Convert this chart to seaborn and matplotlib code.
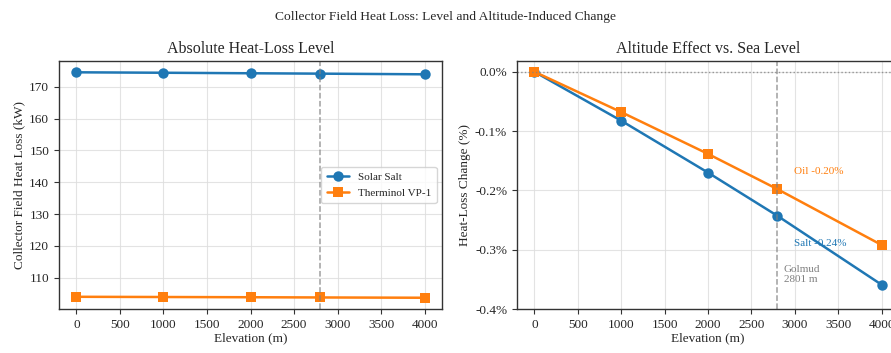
import matplotlib
matplotlib.use("Agg")
import matplotlib.pyplot as plt
import seaborn as sns
import pandas as pd
from matplotlib.ticker import PercentFormatter

elevation = [0, 1000, 2000, 2801, 4000]
fluids = ["Solar Salt", "Therminol VP-1"]
salt_kw = [174.50, 174.36, 174.20, 174.08, 173.87]
oil_kw = [104.06, 103.99, 103.92, 103.85, 103.76]
salt_pct = [0.0, -0.0825, -0.170, -0.243, -0.359]
oil_pct = [0.0, -0.068, -0.1385, -0.198, -0.292]
golmud = 2801

sns.set_style("ticks")
plt.rcParams["font.family"] = ["Liberation Serif", "DejaVu Serif"]
plt.rcParams["axes.unicode_minus"] = False

colors = {"Solar Salt": "#1f77b4", "Therminol VP-1": "#ff7f0e"}
markers = {"Solar Salt": "o", "Therminol VP-1": "s"}

df = pd.DataFrame({
    "Elevation": elevation * 2,
    "kW": salt_kw + oil_kw,
    "pct": salt_pct + oil_pct,
    "Fluid": [fluids[0]] * len(elevation) + [fluids[1]] * len(elevation),
})

fig = plt.figure(figsize=(8.91, 3.53), dpi=100)
ax1 = fig.add_axes([0.0662, 0.1246, 0.430, 0.7025])
ax2 = fig.add_axes([0.5802, 0.1246, 0.4287, 0.7025])

for ax in (ax1, ax2):
    for s in ax.spines.values():
        s.set_color("#333333")
        s.set_linewidth(1.0)

sns.lineplot(data=df, x="Elevation", y="kW", hue="Fluid", style="Fluid",
             markers=markers, dashes=False, palette=colors, markersize=7.5,
             linewidth=1.8, markeredgewidth=0, ax=ax1)
ax1.axvline(golmud, color="gray", ls="--", lw=1.1, alpha=0.75)
ax1.set_xlim(-200, 4200)
ax1.set_xticks(range(0, 4001, 500))
ax1.set_yticks(range(110, 171, 10))
ax1.grid(True, color="#dddddd", lw=0.8, alpha=0.8)
ax1.set_axisbelow(True)
ax1.set_xlabel("Elevation (m)", fontsize=9.5, labelpad=1)
ax1.set_ylabel("Collector Field Heat Loss (kW)", fontsize=9.5, labelpad=3)
ax1.set_title("Absolute Heat-Loss Level", fontsize=11.5, pad=6)
ax1.tick_params(labelsize=9.5, length=3.5, color="#333333")
leg = ax1.legend(loc="center right", fontsize=8, frameon=True, title=None,
                 borderpad=0.5, handlelength=2.0)
leg.get_frame().set_edgecolor("#cccccc")

sns.lineplot(data=df, x="Elevation", y="pct", hue="Fluid", style="Fluid",
             markers=markers, dashes=False, palette=colors, markersize=7.5,
             linewidth=1.8, markeredgewidth=0, ax=ax2, legend=False)
ax2.axvline(golmud, color="gray", ls="--", lw=1.1, alpha=0.75)
ax2.axhline(0, color="gray", ls=":", lw=1.0, alpha=0.8)
ax2.set_xlim(-200, 4200)
ax2.set_ylim(-0.4, 0.018)
ax2.set_xticks(range(0, 4001, 500))
ax2.set_yticks([0.0, -0.1, -0.2, -0.3, -0.4])
ax2.yaxis.set_major_formatter(PercentFormatter(xmax=100, decimals=1))
ax2.grid(True, color="#dddddd", lw=0.8, alpha=0.8)
ax2.set_axisbelow(True)
ax2.set_xlabel("Elevation (m)", fontsize=9.5, labelpad=1)
ax2.set_ylabel("Heat-Loss Change (%)", fontsize=9.5, labelpad=3)
ax2.set_title("Altitude Effect vs. Sea Level", fontsize=11.5, pad=6)
ax2.tick_params(labelsize=9.5, length=3.5, color="#333333")

ax2.text(golmud + 190, oil_pct[3] + 0.029, f"Oil {oil_pct[3]:.2f}%",
         color=colors["Therminol VP-1"], fontsize=8, va="center", ha="left")
ax2.text(golmud + 190, salt_pct[3] - 0.046, f"Salt {salt_pct[3]:.2f}%",
         color=colors["Solar Salt"], fontsize=8, va="center", ha="left")
ax2.text(golmud + 70, -0.342, f"Golmud\n{golmud} m", color="gray",
         fontsize=8, va="center", ha="left", linespacing=1.2)

fig.suptitle("Collector Field Heat Loss: Level and Altitude-Induced Change",
             fontsize=9.7, y=0.968)

fig.savefig("out.png", dpi=100)
